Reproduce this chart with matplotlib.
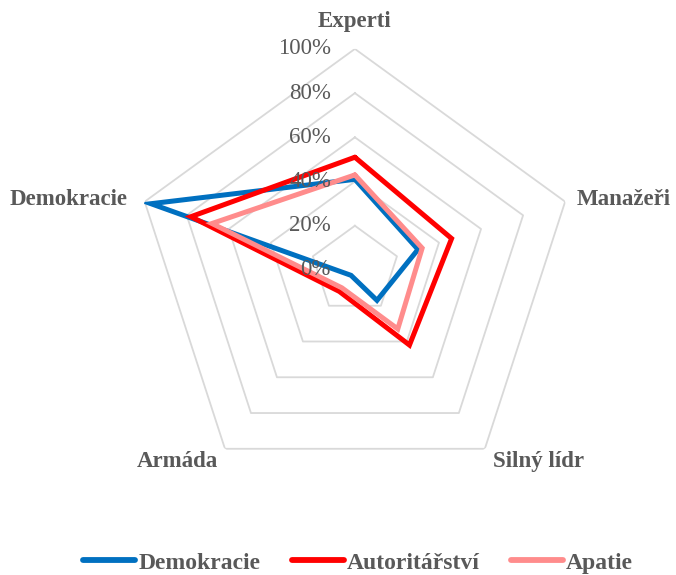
import numpy as np
import matplotlib
matplotlib.use('Agg')
import matplotlib.pyplot as plt
from matplotlib.transforms import offset_copy

categories = ['Experti', 'Manažeři', 'Silný lídr', 'Armáda', 'Demokracie']
demokracie = [41, 30, 17, 3, 97]
autoritarstvi = [51, 46, 42, 12, 78]
apatie = [43, 32, 33, 10, 68]
series_names = ['Demokracie', 'Autoritářství', 'Apatie']
series_colors = ['#0070C0', '#FF0000', '#FF8C8C']
tick_values = [0, 20, 40, 60, 80, 100]

plt.rcParams['font.family'] = ['Liberation Serif', 'DejaVu Serif']
text_color = '#595959'
grid_color = '#D9D9D9'

fig = plt.figure(figsize=(6.76, 5.75), dpi=100)
ax = fig.add_axes([0.198, 0.146, 0.654, 0.769], projection='polar')
ax.set_theta_offset(np.pi / 2)
ax.set_theta_direction(-1)
ax.set_ylim(0, 100)
ax.grid(False)
ax.spines['polar'].set_visible(False)
ax.set_xticks([])
ax.set_yticks([])
ax.patch.set_alpha(0)

n = len(categories)
angles = np.arange(n) * 2 * np.pi / n
closed = np.append(angles, angles[0])

# pentagon grid
for v in tick_values[1:]:
    ax.plot(closed, [v] * (n + 1), color=grid_color, lw=1.3, zorder=1)

# series
for name, vals, col in zip(series_names, [demokracie, autoritarstvi, apatie], series_colors):
    ax.plot(closed, vals + [vals[0]], color=col, lw=3.6, label=name,
            solid_joinstyle='miter', solid_capstyle='round', zorder=3)

# radial tick labels
tr = offset_copy(ax.transData, fig=fig, x=-24, y=0, units='dots')
for v in tick_values:
    ax.text(0, v, f'{v}%', transform=tr, ha='right', va='center',
            fontsize=16.5, color=text_color, zorder=5)

# category labels
offsets = [(0, 27, 'center'), (12, 2, 'left'), (8, -13, 'left'),
           (-7, -13, 'right'), (-17, 2, 'right')]
for ang, cat, (dx, dy, ha) in zip(angles, categories, offsets):
    t = offset_copy(ax.transData, fig=fig, x=dx, y=dy, units='dots')
    ax.text(ang, 100, cat, transform=t, ha=ha, va='center', fontsize=16.5,
            fontweight='bold', color=text_color)

leg = fig.legend(loc='center', bbox_to_anchor=(0.53, 0.021), ncol=3, frameon=False,
                 handlelength=2.2, handletextpad=0.15, columnspacing=1.3,
                 prop={'size': 17, 'weight': 'bold'})
for txt in leg.get_texts():
    txt.set_color(text_color)
for h in leg.get_lines():
    h.set_linewidth(4.2)

fig.savefig('out.png', dpi=100)
